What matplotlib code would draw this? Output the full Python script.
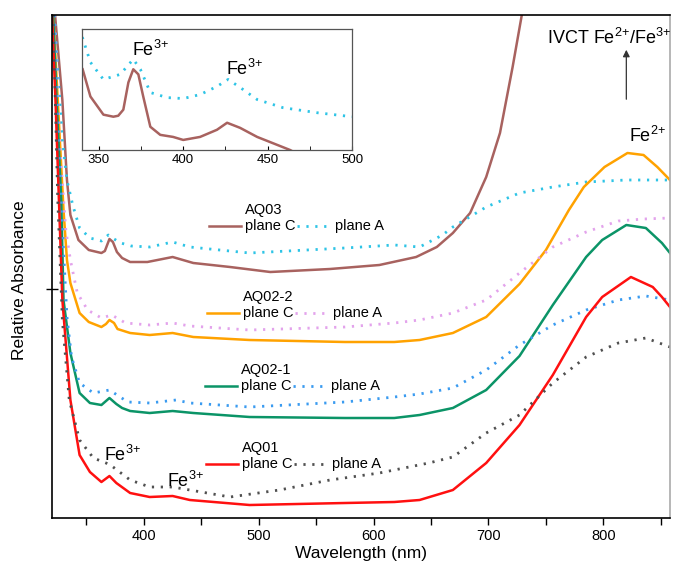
#!/usr/bin/env python3
"""Polarized absorption spectra of AQ samples, planes C and A."""
import matplotlib
matplotlib.use("Agg")
import matplotlib.pyplot as plt

plt.rcParams["font.family"] = ["Liberation Sans", "DejaVu Sans"]
plt.rcParams["mathtext.fontset"] = "custom"
plt.rcParams["mathtext.rm"] = "Liberation Sans"
plt.rcParams["mathtext.it"] = "Liberation Sans"
plt.rcParams["mathtext.bf"] = "Liberation Sans:bold"

# main panel: wavelength (nm) / relative absorbance (offset, arb. units)
aq03_c_nm = [320, 329, 333, 336, 343, 352, 363, 366, 370, 373, 376.5, 381, 388, 403, 425, 443,
             475, 510, 562, 605, 637, 655, 669, 684, 698, 710, 721, 729, 735]
aq03_c_abs = [5.38, 4.18, 3.38, 3.03, 2.78, 2.68, 2.65, 2.67, 2.79, 2.76, 2.66, 2.60, 2.56, 2.56,
              2.61, 2.55, 2.51, 2.46, 2.49, 2.53, 2.61, 2.71, 2.85, 3.05, 3.41, 3.85, 4.51, 5.03, 5.48]
aq03_a_nm = [322, 329, 333, 338, 344, 353, 363, 369, 374, 380, 389, 405, 425, 440, 492, 575, 618,
             640, 660, 669, 698, 727, 756, 785, 820, 858]
aq03_a_abs = [5.03, 3.78, 3.38, 3.13, 2.90, 2.80, 2.77, 2.83, 2.79, 2.75, 2.72, 2.71, 2.76, 2.71,
              2.65, 2.70, 2.73, 2.71, 2.83, 2.91, 3.11, 3.25, 3.31, 3.36, 3.38, 3.38]

aq022_c_nm = [321, 325, 330, 333, 336, 344, 352, 363, 367, 370, 374, 377, 388, 405, 425, 443, 492,
              575, 618, 640, 669, 698, 727, 750, 770, 783, 801, 821, 835, 847, 858]
aq022_c_abs = [5.03, 4.18, 3.08, 2.58, 2.35, 2.05, 1.96, 1.91, 1.94, 1.98, 1.95, 1.89, 1.85, 1.83,
               1.85, 1.81, 1.78, 1.76, 1.76, 1.78, 1.85, 2.01, 2.34, 2.68, 3.08, 3.31, 3.51, 3.65,
               3.63, 3.51, 3.38]
aq022_a_nm = [322, 327, 332, 336, 342, 351, 363, 372, 384, 405, 425, 440, 492, 575, 618, 640, 669,
              698, 727, 756, 785, 813, 835, 858]
aq022_a_abs = [5.03, 3.68, 2.88, 2.58, 2.25, 2.08, 2.00, 2.03, 1.95, 1.93, 1.95, 1.92, 1.88, 1.91,
               1.95, 1.98, 2.05, 2.18, 2.45, 2.71, 2.86, 2.97, 2.99, 3.00]

aq021_c_nm = [321, 324, 328, 330, 336, 344, 353, 363, 370, 376, 381, 388, 405, 425, 443, 492, 575,
              618, 640, 669, 698, 727, 756, 785, 799, 820, 837, 851, 858]
aq021_c_abs = [5.03, 4.18, 3.18, 2.18, 1.65, 1.25, 1.15, 1.13, 1.20, 1.14, 1.10, 1.07, 1.05, 1.07,
               1.05, 1.01, 1.00, 1.00, 1.03, 1.10, 1.28, 1.62, 2.13, 2.61, 2.78, 2.93, 2.90, 2.75,
               2.65]
aq021_a_nm = [322, 326, 330, 333, 337, 344, 356, 370, 386, 405, 428, 440, 492, 575, 618, 640, 669,
              698, 727, 756, 785, 813, 837, 858]
aq021_a_abs = [5.03, 3.68, 2.68, 2.01, 1.61, 1.35, 1.25, 1.28, 1.16, 1.15, 1.18, 1.15, 1.11, 1.16,
               1.21, 1.24, 1.30, 1.48, 1.73, 1.93, 2.08, 2.18, 2.22, 2.18]

aq01_c_nm = [320, 323, 326, 329, 336, 344, 353, 363, 370, 376, 388, 405, 425, 440, 492, 575, 618,
             640, 669, 698, 727, 756, 785, 799, 824, 843, 851, 858]
aq01_c_abs = [5.03, 4.18, 3.18, 2.18, 1.18, 0.63, 0.46, 0.36, 0.42, 0.35, 0.25, 0.21, 0.22, 0.18,
              0.13, 0.15, 0.16, 0.18, 0.28, 0.55, 0.93, 1.43, 2.01, 2.21, 2.41, 2.31, 2.21, 2.11]
aq01_a_nm = [321, 325, 329, 335, 344, 356, 367, 372, 388, 405, 425, 440, 475, 518, 562, 605, 648,
             669, 698, 727, 756, 785, 813, 837, 858]
aq01_a_abs = [5.03, 3.18, 1.98, 1.18, 0.78, 0.60, 0.55, 0.52, 0.38, 0.31, 0.31, 0.28, 0.21, 0.28,
              0.38, 0.45, 0.55, 0.61, 0.85, 1.03, 1.35, 1.61, 1.75, 1.80, 1.71]

# inset: AQ03 zoom on the Fe3+ bands
ins_c_nm = [340.4, 345, 352.7, 358.6, 361.5, 364.5, 367.5, 370.4, 373.4, 376.3, 380.5, 386.4, 394,
            400, 410, 420, 426, 433.7, 443.8, 463.3, 470]
ins_c_abs = [6.67, 4.42, 2.92, 2.75, 2.83, 3.33, 5.58, 6.67, 6.25, 4.42, 1.92, 1.25, 1.08, 0.83,
             1.08, 1.67, 2.25, 1.83, 1.08, 0.0, -0.5]
ins_a_nm = [340.2, 345, 352.7, 362.7, 370.4, 374.6, 380.5, 390.5, 400, 410, 420, 426.6, 433.7,
            443.8, 459, 479.3, 500]
ins_a_abs = [9.33, 7.25, 5.83, 6.25, 7.5, 6.67, 4.75, 4.33, 4.25, 4.58, 5.25, 5.83, 5.17, 4.17,
             3.5, 3.08, 2.75]

BROWN = "#a8625f"
CYAN = "#2ec4e6"
ORANGE = "#ffa200"
VIOLET = "#e3a3ec"
GREEN = "#0b9467"
BLUE = "#3a9bf0"
RED = "#ff1010"
GREY = "#505050"
DOT = (0, (0.8, 2.4))
FE3 = "Fe$^{3{+}}$"
FE2 = "Fe$^{2{+}}$"

fig = plt.figure(figsize=(6.73, 5.66), dpi=100)
ax = fig.add_axes([0.0773, 0.0848, 0.9182, 0.8887])

series = [
    (aq03_c_nm, aq03_c_abs, BROWN, "-"), (aq03_a_nm, aq03_a_abs, CYAN, DOT),
    (aq022_c_nm, aq022_c_abs, ORANGE, "-"), (aq022_a_nm, aq022_a_abs, VIOLET, DOT),
    (aq021_c_nm, aq021_c_abs, GREEN, "-"), (aq021_a_nm, aq021_a_abs, BLUE, DOT),
    (aq01_c_nm, aq01_c_abs, RED, "-"), (aq01_a_nm, aq01_a_abs, GREY, DOT),
]
for x, y, c, ls in series:
    lw = 1.8 if ls == "-" else 2.0
    ax.plot(x, y, color=c, ls=ls, lw=lw, solid_joinstyle="round")

ax.set_xlim(320, 858)
ax.set_ylim(0, 5.03)
ticks = list(range(350, 851, 50))
ax.set_xticks(ticks)
ax.set_xticklabels([str(t) if t % 100 == 0 else "" for t in ticks], fontsize=10.5)
ax.tick_params(axis="x", direction="out", length=5, width=1, pad=3)
ax.set_yticks([2.29])
ax.set_yticklabels([""])
ax.tick_params(axis="y", direction="inout", length=9, width=1)
for s in ax.spines.values():
    s.set_linewidth(1.2)
ax.spines["right"].set_color("#aaaaaa")
ax.set_xlabel("Wavelength (nm)", fontsize=12.5, labelpad=2)
ax.set_ylabel("Relative Absorbance", fontsize=12.5)
ax.yaxis.set_label_coords(-0.040, 0.473)

# legend groups drawn as text + short line samples
groups = [
    ("AQ03", 245, 210, BROWN, CYAN),
    ("AQ02-2", 243, 297, ORANGE, VIOLET),
    ("AQ02-1", 241, 370, GREEN, BLUE),
    ("AQ01", 242, 448, RED, GREY),
]
for name, px, py, c1, c2 in groups:
    xf = px / 673
    yf = 1 - py / 566
    fig.text(xf, yf, name, fontsize=10.5, va="center", ha="left")
    yl = yf - 16 / 566
    fig.add_artist(plt.Line2D([xf - 36 / 673, xf - 4 / 673], [yl, yl], color=c1, lw=1.8))
    fig.text(xf, yl, "plane C", fontsize=10.5, va="center", ha="left")
    fig.add_artist(plt.Line2D([xf + 52 / 673, xf + 86 / 673], [yl, yl], color=c2, lw=2.0, ls=DOT))
    fig.text(xf + 90 / 673, yl, "plane A", fontsize=10.5, va="center", ha="left")

ax.text(381.7, 0.573, FE3, fontsize=13, ha="center", va="baseline")
ax.text(436.5, 0.31, FE3, fontsize=13, ha="center", va="baseline")
ax.text(838, 3.76, FE2, fontsize=13, ha="center", va="baseline")
ax.text(859, 4.74, "IVCT Fe$^{2{+}}$/Fe$^{3{+}}$", fontsize=13, ha="right", va="baseline")
ax.annotate("", xy=(820, 4.71), xytext=(820, 4.16),
            arrowprops=dict(arrowstyle="-|>", color="#333333", lw=0.9, mutation_scale=10))

# inset
ins = fig.add_axes([0.1218, 0.735, 0.4012, 0.2138])
ins.plot(ins_c_nm, ins_c_abs, color=BROWN, lw=1.8, solid_joinstyle="round")
ins.plot(ins_a_nm, ins_a_abs, color=CYAN, lw=2.0, ls=DOT)
ins.set_xlim(340, 500)
ins.set_ylim(0, 10)
ins.set_xticks([350, 400, 450, 500])
ins.set_xticks([375, 425, 475], minor=True)
ins.set_yticks([])
ins.tick_params(axis="x", which="both", direction="in", labelsize=9.5, length=3, pad=3)
for s in ins.spines.values():
    s.set_color("#555555")
    s.set_linewidth(0.9)
ins.text(380.5, 7.75, FE3, fontsize=13, ha="center", va="baseline")
ins.text(436, 6.17, FE3, fontsize=13, ha="center", va="baseline")

fig.savefig("out.png", dpi=100)
